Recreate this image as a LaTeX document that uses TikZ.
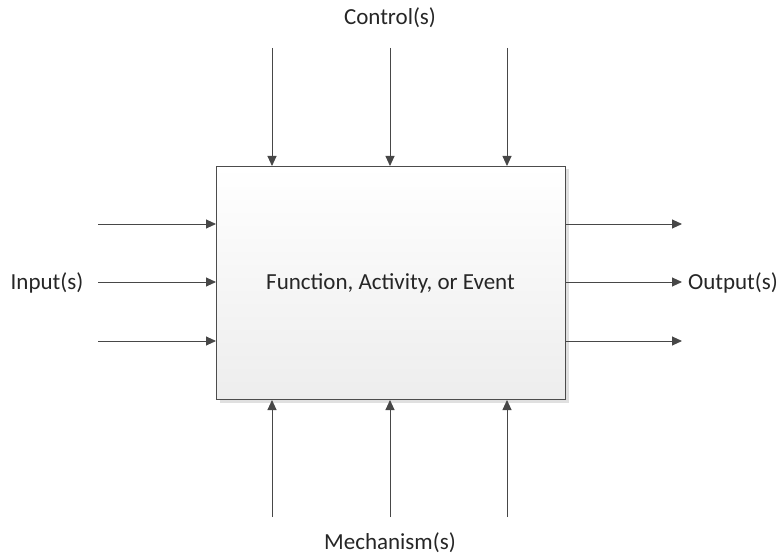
\documentclass[tikz,border=0pt]{standalone}
\usepackage{fontspec}
\setmainfont{Carlito}
\usetikzlibrary{arrows.meta,shadows}
\begin{document}
\begin{tikzpicture}[x=1pt,y=-1pt,
  flow/.style={draw=black!72,line width=0.9pt,-{Triangle[length=10pt,width=9pt]}},
  lbl/.style={font=\fontsize{23}{27}\selectfont,text=black!85,inner sep=0pt},
  funcbox/.style={draw=black!70,line width=1pt,top color=white,bottom color=black!7,
    drop shadow={shadow xshift=3pt,shadow yshift=-3pt,fill=black!12,opacity=1}}]
\useasboundingbox (0,0) rectangle (777,556);
% the function box
\node[funcbox,minimum width=349pt,minimum height=233pt,anchor=north west,inner sep=0pt] (f) at (216,166) {};
\node[lbl] (ft) at (390.5,283) {Function, Activity, or Event};
% labels
\node[lbl] (ctl) at (390,18) {Control(s)};
\node[lbl] (inp) at (47,283) {Input(s)};
\node[lbl] (out) at (733,283) {Output(s)};
\node[lbl] (mech) at (390,543) {Mechanism(s)};
% free ends of the connectors
\foreach \i/\x in {1/272,2/390,3/507} {
  \coordinate (c\i) at (\x,48);
  \coordinate (m\i) at (\x,517);
  \draw[flow] (c\i) -- (c\i |- f.north);
  \draw[flow] (m\i) -- (m\i |- f.south);
}
\foreach \i/\y in {1/224,2/282,3/341} {
  \coordinate (i\i) at (98,\y);
  \coordinate (o\i) at (682,\y);
  \draw[flow] (i\i) -- (i\i -| f.west);
  \draw[flow] (o\i -| f.east) -- (o\i);
}
\end{tikzpicture}
\end{document}
